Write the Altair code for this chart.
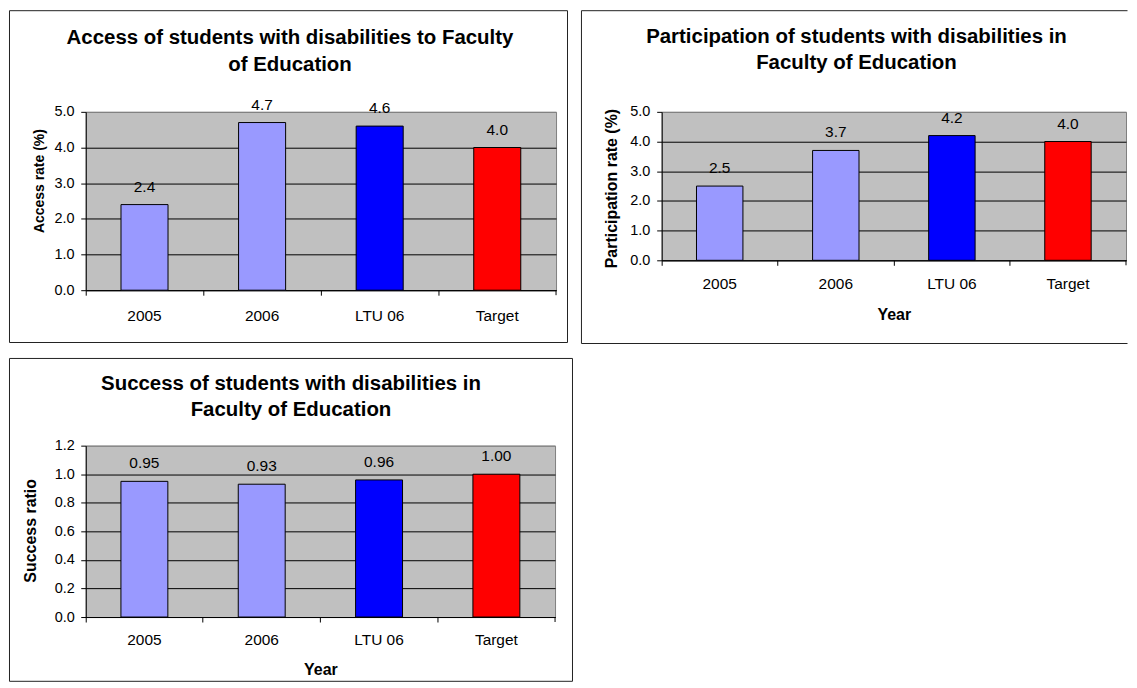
import altair as alt
import pandas as pd

categories = ["2005", "2006", "LTU 06", "Target"]
access_rate = [2.4, 4.7, 4.6, 4.0]
participation_rate = [2.5, 3.7, 4.2, 4.0]
success_ratio = [0.95, 0.93, 0.96, 1.00]
bar_colors = ["#9999FF", "#9999FF", "#0000FF", "#FF0000"]

title_access = ["Access of students with disabilities to Faculty", "of Education"]
title_participation = ["Participation of students with disabilities in", "Faculty of Education"]
title_success = ["Success of students with disabilities in", "Faculty of Education"]

ticks_rate = [0, 1, 2, 3, 4, 5]
ticks_ratio = [0, 0.2, 0.4, 0.6, 0.8, 1.0, 1.2]

FONT = "Liberation Sans"
BORDER = "#222222"
one = pd.DataFrame({"k": [0]})


def frame(box, right_side):
    if right_side:
        return [alt.Chart(one).mark_rect(fillOpacity=0, stroke=BORDER, strokeWidth=1,
                                         clip=False).encode(
            x=alt.value(box[0]), y=alt.value(box[1]),
            x2=alt.value(box[2]), y2=alt.value(box[3]))]
    rule = alt.Chart(one).mark_rule(color=BORDER, strokeWidth=1, clip=False)
    return [
        rule.encode(x=alt.value(box[0]), x2=alt.value(box[2]), y=alt.value(box[1])),
        rule.encode(x=alt.value(box[0]), x2=alt.value(box[2]), y=alt.value(box[3])),
        rule.encode(x=alt.value(box[0]), y=alt.value(box[1]), y2=alt.value(box[3])),
    ]


def panel(values, title_lines, ytitle, ytitle_size, ymax, yticks, fmt, w, h,
          box, tpos, ytpos, xlabel_pad, ylabel_pad, xtitle=None, xtitle_y=None,
          right_side=True):
    df = pd.DataFrame({"cat": categories, "val": values})
    xaxis = dict(bandPosition=0, tickSize=5, tickColor="black", domainColor="black",
                 labelAngle=0, labelFontSize=15.5, labelFont=FONT, labelColor="black",
                 labelPadding=xlabel_pad, labelBaseline="middle")
    if xtitle:
        xaxis.update(title=xtitle, titleFont=FONT, titleFontSize=16, titleFontWeight="bold",
                     titleColor="black", titleY=xtitle_y, titleBaseline="middle")
    else:
        xaxis.update(title=None)
    x = alt.X("cat:N", sort=categories,
              scale=alt.Scale(domain=categories, paddingInner=0, paddingOuter=0),
              axis=alt.Axis(**xaxis))
    y = alt.Y("val:Q",
              scale=alt.Scale(domain=[0, ymax], nice=False, zero=True),
              axis=alt.Axis(values=yticks, format=".1f", tickSize=5, tickColor="black",
                            domainColor="black",
                            gridColor={"condition": {"test": f"datum.value >= {ymax}",
                                                     "value": "#808080"},
                                       "value": "black"},
                            gridOpacity=1, gridWidth=1,
                            labelFontSize=14.5, labelFont=FONT, labelColor="black",
                            labelPadding=ylabel_pad,
                            title=ytitle, titleFont=FONT, titleFontSize=ytitle_size,
                            titleFontWeight="bold", titleColor="black",
                            titleX=ytpos[0], titleY=ytpos[1], titleBaseline="middle",
                            titleAlign="center", titleAngle=270))
    color = alt.Color("cat:N", scale=alt.Scale(domain=categories, range=bar_colors),
                      legend=None)
    base = alt.Chart(df)
    bars = base.mark_bar(width=alt.RelativeBandSize(0.4), stroke="black",
                         strokeWidth=1).encode(x=x, y=y, color=color)
    labels = base.mark_text(baseline="alphabetic", dy=-13, fontSize=15.5, font=FONT,
                            color="black").encode(
        x=x, y=y, text=alt.Text("val:Q", format=fmt))
    title = alt.Chart(one).mark_text(text=title_lines, font=FONT, fontSize=20.5,
                                     fontWeight="bold", color="black", align="center",
                                     baseline="alphabetic", lineHeight=26.5).encode(
        x=alt.value(tpos[0]), y=alt.value(tpos[1]))
    endtick = alt.Chart(one).mark_rule(color="black", strokeWidth=1).encode(
        x=alt.value(w), y=alt.value(h), y2=alt.value(h + 5))
    layers = frame(box, right_side) + [bars, labels, title, endtick]
    return alt.layer(*layers).properties(width=w, height=h)


p1 = panel(access_rate, title_access, "Access rate (%)", 14, 5, ticks_rate, ".1f",
           472, 179, (-76.5, -101.5, 483.5, 231.5), (205, -67.7), (-46.2, 69), 20, 6.7)
p2 = panel(participation_rate, title_participation, "Participation rate (%)", 16, 5,
           ticks_rate, ".1f", 466, 149, (-80.5, -101.5, 467.5, 232.5), (195.5, -69.3),
           (-50, 76.5), 18, 7, xtitle="Year", xtitle_y=54, right_side=False)
p3 = panel(success_ratio, title_success, "Success ratio", 16, 1.2, ticks_ratio, ".2f",
           471, 172, (-76.5, -87.5, 488.5, 236.5), (206, -56.3), (-55.4, 85), 18, 6.5,
           xtitle="Year", xtitle_y=53)

chart = alt.concat(p1, p2, p3, columns=2, align="none",
                   spacing={"row": 12, "column": 6}).properties(
    padding=0, background="white"
).configure_view(fill="#C0C0C0", stroke="#808080", strokeWidth=1)

chart.save("out.html", embed_options={"renderer": "svg", "actions": False})
